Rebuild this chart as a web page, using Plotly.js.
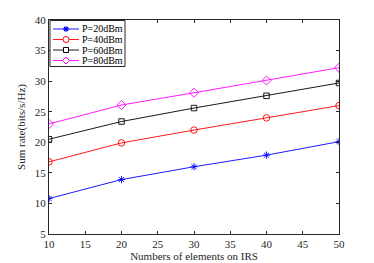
<!DOCTYPE html>
<html><head><meta charset="utf-8">
<script src="https://cdn.plot.ly/plotly-3.0.1.min.js"></script>
<style>html,body{margin:0;padding:0;background:#fff;}#c{width:374px;height:263px;}</style>
</head><body><div id="c"></div>
<script>
const elements = [10, 20, 30, 40, 50];
const p20 = [10.8, 13.9, 16.0, 17.9, 20.1];
const p40 = [16.8, 19.9, 22.0, 24.0, 26.0];
const p60 = [20.5, 23.4, 25.6, 27.6, 29.7];
const p80 = [23.0, 26.1, 28.1, 30.1, 32.2];
const names = ['P=20dBm', 'P=40dBm', 'P=60dBm', 'P=80dBm'];
const xTicks = [10, 15, 20, 25, 30, 35, 40, 45, 50];
const yTicks = [5, 10, 15, 20, 25, 30, 35, 40];

const series = [p20, p40, p60, p80];
const colors = ['#0000ff', '#ff0000', '#000000', '#ff00ff'];
const symbols = ['asterisk-open', 'circle-open', 'square-open', 'diamond-open'];
const sizes = [6, 6.5, 5.5, 7];
const traces = series.map((s, i) => ({
  x: elements, y: s, name: names[i], type: 'scatter', mode: 'lines+markers',
  line: {color: colors[i], width: 0.9},
  marker: {symbol: symbols[i], color: colors[i], size: sizes[i], line: {color: colors[i], width: 0.9}}
}));

// plot area in pixels (for the hand-drawn compact legend)
const L = 49, R = 339, T = 20, B = 234;
const px = v => (v - L) / (R - L);
const py = v => (B - v) / (B - T);
const fam = 'Liberation Serif, Times New Roman, serif';

const shapes = [{type: 'rect', xref: 'paper', yref: 'paper', x0: px(50), x1: px(125), y0: py(20.5), y1: py(66.5),
  line: {color: '#262626', width: 1}, fillcolor: '#fff', layer: 'above'}];
const annotations = [];
const rows = [29, 39.5, 50, 60.5];
rows.forEach((ry, i) => {
  const c = colors[i];
  shapes.push({type: 'line', xref: 'paper', yref: 'paper', x0: px(53), x1: px(79), y0: py(ry), y1: py(ry),
    line: {color: c, width: 0.9}, layer: 'above'});
  const mx = 66, r = 2.8;
  if (i === 0) {
    [[-r, 0, r, 0], [0, -r, 0, r], [-2, -2, 2, 2], [-2, 2, 2, -2]].forEach(d => shapes.push({type: 'line', xref: 'paper', yref: 'paper',
      x0: px(mx + d[0]), x1: px(mx + d[2]), y0: py(ry + d[1]), y1: py(ry + d[3]), line: {color: c, width: 1.2}, layer: 'above'}));
  } else if (i === 1) {
    shapes.push({type: 'circle', xref: 'paper', yref: 'paper', x0: px(mx - 3), x1: px(mx + 3), y0: py(ry - 3), y1: py(ry + 3),
      line: {color: c, width: 1}, fillcolor: '#fff', layer: 'above'});
  } else if (i === 2) {
    shapes.push({type: 'rect', xref: 'paper', yref: 'paper', x0: px(mx - 2.5), x1: px(mx + 2.5), y0: py(ry - 2.5), y1: py(ry + 2.5),
      line: {color: c, width: 1}, fillcolor: '#fff', layer: 'above'});
  } else {
    const d = 3.5;
    shapes.push({type: 'path', xref: 'paper', yref: 'paper',
      path: `M ${px(mx)} ${py(ry - d)} L ${px(mx + d)} ${py(ry)} L ${px(mx)} ${py(ry + d)} L ${px(mx - d)} ${py(ry)} Z`,
      line: {color: c, width: 1}, fillcolor: '#fff', layer: 'above'});
  }
  annotations.push({xref: 'paper', yref: 'paper', x: px(80), y: py(ry), xanchor: 'left', yanchor: 'middle',
    text: names[i], showarrow: false, font: {family: fam, size: 10, color: '#000'}});
});

const font = {family: fam, color: '#262626', size: 11};
const layout = {
  width: 374, height: 263,
  margin: {l: L, r: 374 - R, t: T, b: 263 - B},
  paper_bgcolor: '#fff', plot_bgcolor: '#fff',
  font: font,
  showlegend: false,
  shapes: shapes,
  annotations: annotations,
  xaxis: {range: [10, 50], tickvals: xTicks, ticks: 'inside', ticklen: 3, tickcolor: '#262626',
    showline: true, linecolor: '#262626', linewidth: 1, mirror: 'ticks', showgrid: false, zeroline: false,
    title: {text: 'Numbers of elements on IRS', font: {family: fam, size: 11, color: '#262626'}, standoff: 3},
    tickfont: font},
  yaxis: {range: [5, 40], tickvals: yTicks, ticks: 'inside', ticklen: 3, tickcolor: '#262626',
    showline: true, linecolor: '#262626', linewidth: 1, mirror: 'ticks', showgrid: false, zeroline: false,
    title: {text: 'Sum rate(bits/s/Hz)', font: {family: fam, size: 11, color: '#262626'}, standoff: 6},
    tickfont: font}
};
Plotly.newPlot('c', traces, layout, {displayModeBar: false, staticPlot: true});
</script></body></html>
